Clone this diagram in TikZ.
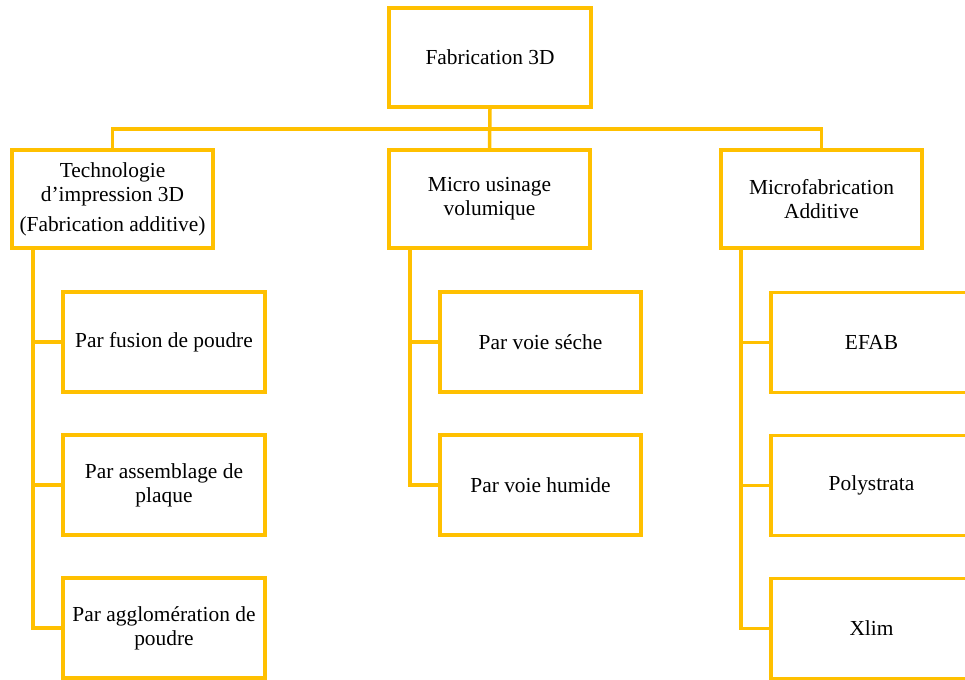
\documentclass[tikz,border=0pt]{standalone}
\usepackage{fontspec}
\setmainfont{Liberation Serif}
\definecolor{gold}{HTML}{FFC000}
\begin{document}
\begin{tikzpicture}[x=1pt,y=-1pt,
  box/.style={draw=gold,line width=3.5pt,fill=white,rectangle,align=center,
    inner sep=0pt,font=\fontsize{21.4}{24}\selectfont},
  wire/.style={draw=gold,line width=3.5pt,line cap=rect}]
\useasboundingbox (0,0) rectangle (965,679);
\clip (0,0) rectangle (965,679);
% nodes
\node[box,minimum width=202pt,minimum height=99pt] (top) at (490,57.5) {Fabrication 3D};
\node[box,minimum width=201pt,minimum height=98pt] (l1) at (112.5,199) {Technologie\\d'impression 3D\\[6pt](Fabrication additive)};
\node[box,minimum width=201pt,minimum height=98pt] (l2) at (489.5,199) {Micro usinage\\volumique};
\node[box,minimum width=201pt,minimum height=98pt] (l3) at (821.5,199) {Microfabrication\\Additive};
% left children
\node[box,minimum width=202pt,minimum height=100pt] (c11) at (164,342) {Par fusion de poudre};
\node[box,minimum width=202pt,minimum height=100pt] (c12) at (164,485) {Par assemblage de\\plaque};
\node[box,minimum width=202pt,minimum height=100pt] (c13) at (164,628) {Par agglomération de\\poudre};
% middle children
\node[box,minimum width=201pt,minimum height=100pt] (c21) at (540.5,342) {Par voie séche};
\node[box,minimum width=201pt,minimum height=100pt] (c22) at (540.5,485) {Par voie humide};
% right children
\node[box,minimum width=201pt,minimum height=100pt] (c31) at (871.5,342.5) {EFAB};
\node[box,minimum width=201pt,minimum height=100pt] (c32) at (871.5,485.5) {Polystrata};
\node[box,minimum width=201pt,minimum height=100pt] (c33) at (871.5,628.5) {Xlim};
% connectors
\coordinate (bus) at (0,129);
\coordinate (t1) at (33,0);
\coordinate (t2) at (410,0);
\coordinate (t3) at (741,0);
\draw[wire] (top.south) -- (l2.north);
\draw[wire] (l1.north |- bus) -- (l3.north |- bus);
\draw[wire] (l1.north |- bus) -- (l1.north);
\draw[wire] (l3.north |- bus) -- (l3.north);
\draw[wire] (t1 |- l1.south) |- (c13.west);
\draw[wire] (t1 |- c11.west) -- (c11.west);
\draw[wire] (t1 |- c12.west) -- (c12.west);
\draw[wire] (t2 |- l2.south) |- (c22.west);
\draw[wire] (t2 |- c21.west) -- (c21.west);
\draw[wire] (t3 |- l3.south) |- (c33.west);
\draw[wire] (t3 |- c31.west) -- (c31.west);
\draw[wire] (t3 |- c32.west) -- (c32.west);
\end{tikzpicture}
\end{document}
